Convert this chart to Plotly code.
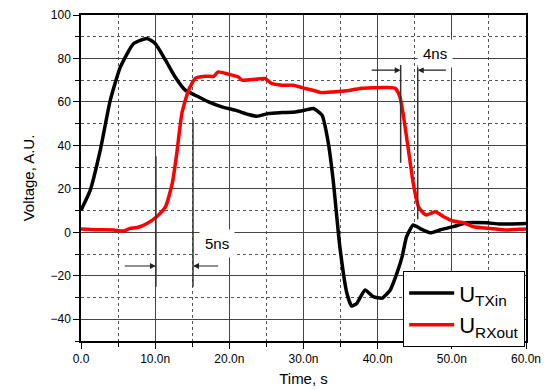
import plotly.graph_objects as go

# ---- data (time in ns, voltage in A.U.) ----
tx_time = [0.0, 1.25, 2.6, 3.95, 5.3, 7.1, 8.9, 10.0, 11.4, 12.7, 14.06, 15.4, 17.2, 19.0, 20.8,
           22.6, 23.7, 25.3, 27.1, 28.9, 30.2, 31.35, 32.5, 33.3, 34.0, 34.9, 35.85, 36.5, 37.2,
           38.3, 39.4, 40.6, 41.7, 42.6, 43.3, 43.9, 44.8, 45.7, 47.1, 48.4, 50.2, 52.0, 54.7,
           56.5, 60.0]
tx_volt = [10.2, 19.4, 37.8, 60.8, 76.0, 86.9, 89.2, 86.9, 79.2, 71.5, 65.4, 63.1, 60.0, 57.7, 56.2,
           54.2, 53.4, 54.7, 55.1, 55.4, 56.2, 57.0, 53.9, 42.0, 24.0, -6.6, -28.0, -33.9, -32.6,
           -26.5, -29.6, -30.3, -26.5, -18.8, -11.2, -2.0, 3.4, 1.8, -0.2, 1.1, 2.6, 4.4, 4.4,
           3.8, 4.1]

rx_time = [0.0, 2.0, 4.4, 5.7, 6.6, 7.6, 8.9, 10.2, 11.4, 12.3, 12.9, 13.6, 14.5, 15.4, 16.75,
           17.9, 18.5, 19.9, 21.2, 21.7, 23.5, 24.8, 25.7, 27.1, 28.6, 30.2, 31.6, 32.3, 34.0,
           35.8, 37.6, 39.4, 41.2, 42.4, 43.0, 43.5, 44.15, 44.8, 45.5, 46.2, 46.6, 47.75, 48.9,
           50.2, 51.6, 52.9, 55.2, 57.4, 60.0]
rx_volt = [1.5, 1.2, 1.1, 0.6, 1.8, 2.2, 4.1, 7.2, 11.8, 22.5, 36.0, 54.7, 65.4, 70.8, 71.8,
           71.8, 73.8, 72.7, 71.5, 70.0, 70.4, 70.8, 68.5, 67.7, 67.7, 66.2, 65.1, 64.3, 64.6,
           65.1, 66.2, 66.5, 66.6, 66.2, 62.3, 53.1, 37.8, 22.5, 11.8, 8.7, 8.0, 9.5, 7.2,
           5.2, 4.4, 2.6, 1.8, 1.1, 1.5]

x_tickvals = [0, 10, 20, 30, 40, 50, 60]
x_ticktext = ["0.0", "10.0n", "20.0n", "30.0n", "40.0n", "50.0n", "60.0n"]
y_tickvals = [-40, -20, 0, 20, 40, 60, 80, 100]

# delay markers: (time, y_from, y_to)
marker_lines = [(10.1, 35, -25), (15.1, 52, -25), (43.1, 77, 32), (45.4, 77, 6)]
delay_labels = [("5ns", 18.3, -5.3), ("4ns", 47.7, 82.4)]
# arrows: (head_time, tail_time, level)
arrows = [(10.1, 5.7, -15.5), (15.1, 18.7, -15.5), (43.1, 39.0, 74.6), (45.4, 49.4, 74.6)]

font_family = "Liberation Sans, Arial, sans-serif"

fig = go.Figure()
fig.add_trace(go.Scatter(x=tx_time, y=tx_volt, mode="lines", name="U<sub>TXin</sub>",
                         line=dict(color="black", width=3.5, shape="spline", smoothing=0.5)))
fig.add_trace(go.Scatter(x=rx_time, y=rx_volt, mode="lines", name="U<sub>RXout</sub>",
                         line=dict(color="#ff0000", width=3.5, shape="spline", smoothing=0.5)))

for t, y0, y1 in marker_lines:
    fig.add_shape(type="line", x0=t, x1=t, y0=y0, y1=y1, xref="x", yref="y",
                  line=dict(color="#333333", width=1.5), layer="above")

for head, tail, lvl in arrows:
    fig.add_annotation(x=head, y=lvl, ax=tail, ay=lvl, xref="x", yref="y", axref="x", ayref="y",
                       showarrow=True, arrowhead=2, arrowsize=1, arrowwidth=1.2,
                       arrowcolor="#222222", text="")

for txt, t, v in delay_labels:
    fig.add_annotation(x=t, y=v, xref="x", yref="y", text=txt, showarrow=False,
                       font=dict(size=15, color="black", family=font_family),
                       bgcolor="white", borderpad=5)

fig.update_layout(
    width=547, height=389,
    margin=dict(l=81, r=21, t=15, b=48),
    paper_bgcolor="white", plot_bgcolor="white",
    font=dict(family=font_family, size=12, color="black"),
    showlegend=True,
    legend=dict(x=0.724, y=0.214, xanchor="left", yanchor="top",
                bgcolor="white", bordercolor="black", borderwidth=1,
                font=dict(size=22, family=font_family), tracegroupgap=0,
                itemwidth=45),
)
fig.update_xaxes(range=[0, 60], tickvals=x_tickvals, ticktext=x_ticktext, automargin=False,
                 showline=True, linecolor="black", linewidth=1.5, mirror=True,
                 ticks="outside", ticklen=6, tickcolor="black",
                 showgrid=True, gridcolor="#444444", gridwidth=1, zeroline=False,
                 minor=dict(dtick=5, showgrid=True, griddash="dot", gridcolor="#555555",
                            ticks="outside", ticklen=4, tickcolor="black"),
                 title=dict(text="Time, s", font=dict(size=15), standoff=8))
fig.update_yaxes(range=[-50, 100], tickvals=y_tickvals, automargin=False,
                 showline=True, linecolor="black", linewidth=1.5, mirror=True,
                 ticks="outside", ticklen=6, tickcolor="black",
                 showgrid=True, gridcolor="#444444", gridwidth=1, zeroline=False,
                 minor=dict(dtick=10, showgrid=True, griddash="dot", gridcolor="#555555",
                            ticks="outside", ticklen=4, tickcolor="black"),
                 title=dict(text="Voltage, A.U.", font=dict(size=15), standoff=12))

fig.write_html("out.html", config={"displayModeBar": False},
               post_script="document.body.style.margin='0';document.body.style.overflow='hidden';")
